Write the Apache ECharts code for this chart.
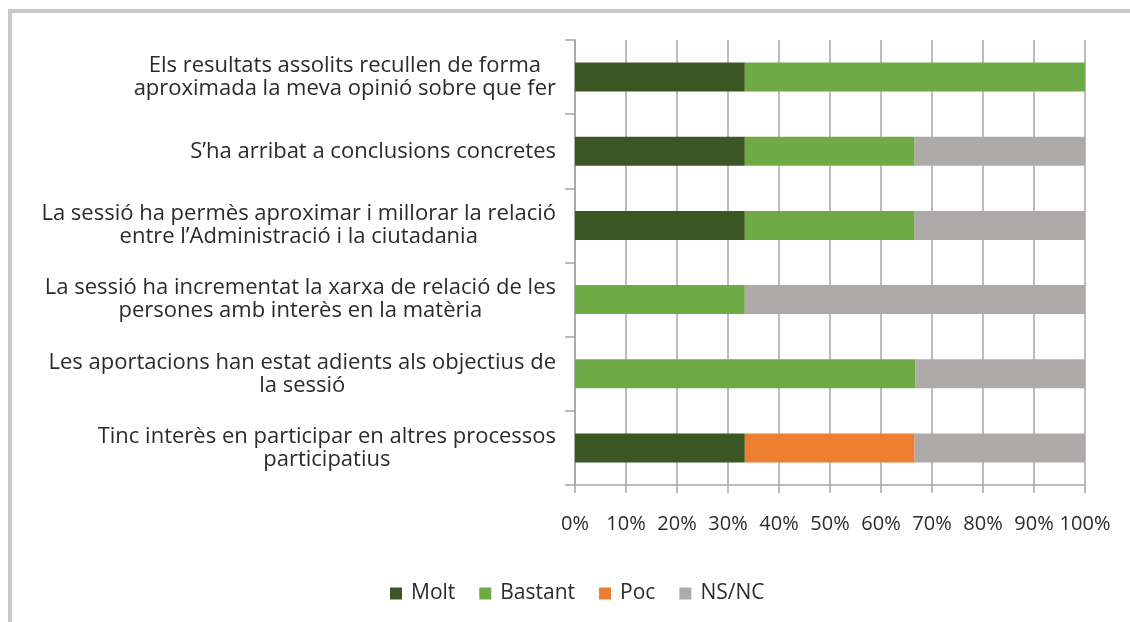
<!DOCTYPE html>
<html>
<head>
<meta charset="utf-8">
<script src="https://cdn.jsdelivr.net/npm/echarts@6/dist/echarts.min.js"></script>
<style>
  html, body { margin: 0; padding: 0; background: #fff; }
  .wrap { position: relative; width: 1130px; height: 622px; overflow: hidden; }
  .frame { position: absolute; left: 8px; top: 9px; width: 1200px; height: 700px;
           border-left: 4px solid #c8c8c8; border-top: 4px solid #c8c8c8; }
  #main { position: absolute; left: 0; top: 0; width: 1130px; height: 622px; }
</style>
</head>
<body>
<div class="wrap">
  <div class="frame"></div>
  <div id="main"></div>
</div>
<script>
  // preguntes (de dalt a baix)
  var categories = [
    ['Els resultats assolits recullen de forma', 'aproximada la meva opinió sobre que fer'],
    ['S\u2019ha arribat a conclusions concretes'],
    ['La sessió ha permès aproximar i millorar la relació', 'entre l\u2019Administració i la ciutadania'],
    ['La sessió ha incrementat la xarxa de relació de les', 'persones amb interès en la matèria'],
    ['Les aportacions han estat adients als objectius de', 'la sessió'],
    ['Tinc interès en participar en altres processos', 'participatius']
  ];
  var seriesNames = ['Molt', 'Bastant', 'Poc', 'NS/NC'];
  var molt    = [33.3, 33.3, 33.3, 0,    0,    33.3];
  var bastant = [66.7, 33.3, 33.3, 33.3, 66.7, 0];
  var poc     = [0,    0,    0,    0,    0,    33.3];
  var nsnc    = [0,    33.4, 33.4, 66.7, 33.3, 33.4];
  var colors  = ['#3a5723', '#6eab46', '#ed7d31', '#aeaaaa'];

  var font = 'Open Sans';
  var txt = '#2b2b2b';
  var chart = echarts.init(document.getElementById('main'));
  var catKeys = categories.map(function (c, i) { return 'c' + i; });

  var option = {
    animation: false,
    textStyle: { fontFamily: font },
    grid: { left: 575, right: 45, top: 40, bottom: 137 },
    legend: {
      data: seriesNames,
      bottom: 18,
      left: 390,
      padding: 0,
      itemWidth: 12,
      itemHeight: 12,
      itemGap: 24,
      icon: 'rect',
      textStyle: { fontFamily: font, fontSize: 21, color: txt, padding: [0, 0, 0, 4] }
    },
    xAxis: {
      type: 'value',
      min: 0,
      max: 100,
      interval: 10,
      axisLine: { show: true, lineStyle: { color: '#a6a6a6', width: 1.5 } },
      axisTick: { show: true, length: 8, lineStyle: { color: '#a6a6a6', width: 1.5 } },
      splitLine: { show: true, lineStyle: { color: '#a6a6a6', width: 1.5 } },
      axisLabel: {
        margin: 29,
        formatter: '{value}%',
        fontSize: 20,
        fontFamily: font,
        color: txt
      }
    },
    yAxis: {
      type: 'category',
      inverse: true,
      data: catKeys,
      axisLine: { show: true, lineStyle: { color: '#a6a6a6', width: 1.5 } },
      axisTick: { show: true, length: 10, lineStyle: { color: '#a6a6a6', width: 1.5 } },
      axisLabel: {
        margin: 19,
        lineHeight: 23,
        formatter: function (v, i) {
          return categories[i].map(function (l) { return '{a|' + l + '}'; }).join('\n');
        },
        rich: {
          a: { align: 'center', fontSize: 22, fontFamily: font, color: txt, lineHeight: 23 }
        }
      }
    },
    series: [molt, bastant, poc, nsnc].map(function (d, k) {
      return {
        name: seriesNames[k],
        type: 'bar',
        stack: 'total',
        barWidth: '39%',
        itemStyle: { color: colors[k] },
        data: d
      };
    })
  };

  chart.setOption(option);
</script>
</body>
</html>
